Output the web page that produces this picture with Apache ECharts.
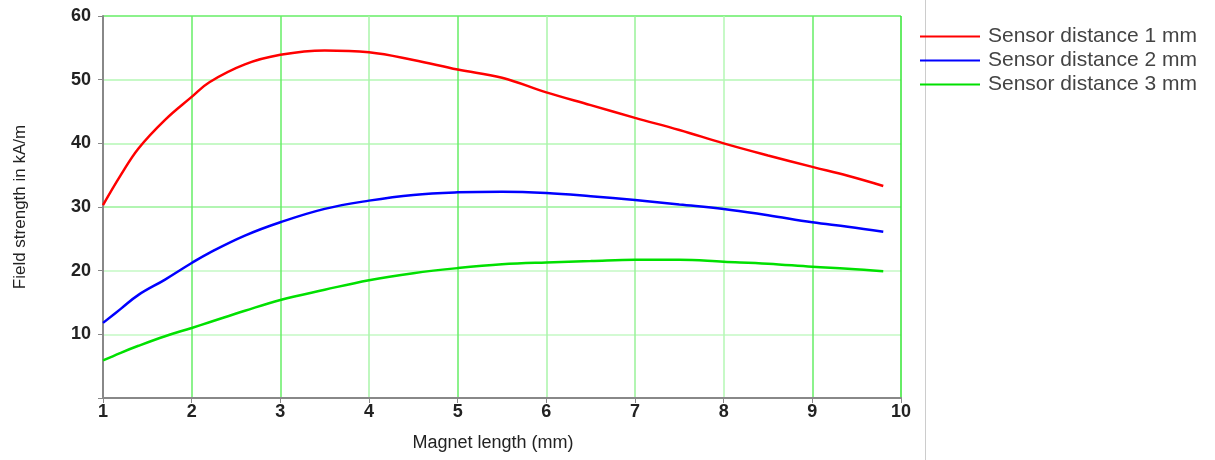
<!DOCTYPE html>
<html><head><meta charset="utf-8">
<script src="https://cdn.jsdelivr.net/npm/echarts@6/dist/echarts.min.js"></script>
<style>html,body{margin:0;padding:0;background:#fff}#c{width:1215px;height:460px}</style>
</head><body><div id="c"></div>
<script>
const magnetLength = [1,1.2,1.4,1.7,2,2.2,2.6,3,3.5,4,4.5,5,5.5,6,6.5,7,7.5,8,8.5,9,9.4,9.8];
const sensor1mm = [30.3,35,39.2,43.7,47.3,49.6,52.4,53.9,54.6,54.3,53.1,51.6,50.3,48.0,46.0,44.0,42.1,40.0,38.1,36.3,34.9,33.3];
const sensor2mm = [11.8,14,16.2,18.6,21.2,22.8,25.5,27.6,29.7,31.0,31.9,32.3,32.4,32.2,31.7,31.1,30.4,29.7,28.7,27.6,26.9,26.1];
const sensor3mm = [5.9,7.1,8.2,9.7,11.0,11.9,13.7,15.4,17.0,18.5,19.6,20.4,21.0,21.3,21.5,21.7,21.7,21.4,21.1,20.6,20.3,19.9];
const seriesNames = ['Sensor distance 1 mm','Sensor distance 2 mm','Sensor distance 3 mm'];
const seriesColors = ['#ff0000','#0000ff','#00e000'];
const xTitle = 'Magnet length (mm)';
const yTitle = 'Field strength in kA/m';

const chart = echarts.init(document.getElementById('c'));
const pair = arr => magnetLength.map((x,i)=>[x,arr[i]]);
const font = '"Liberation Sans", Arial, sans-serif';
chart.setOption({
  animation:false,
  grid:{left:103,right:314,top:16,bottom:62,containLabel:false},
  legend:{orient:'vertical',left:920,top:26,padding:0,itemWidth:60,itemHeight:2,itemGap:3,
    textStyle:{fontFamily:font,fontSize:21,color:'#444',padding:[0,0,0,3]},
    data:seriesNames.map(n=>({name:n,icon:'rect'}))},
  graphic:[{type:'line',shape:{x1:925.5,y1:0,x2:925.5,y2:460},style:{stroke:'#cccccc',lineWidth:1},z:-1}],
  xAxis:{type:'value',min:1,max:10,interval:1,
    name:xTitle,nameLocation:'middle',nameGap:36,
    nameTextStyle:{fontFamily:font,fontSize:18,color:'#222',padding:[0,18,0,0]},
    axisLine:{lineStyle:{color:'#888',width:2}},
    axisTick:{show:true,length:5,lineStyle:{color:'#888'}},
    axisLabel:{fontFamily:font,fontSize:18,fontWeight:'bold',color:'#222',margin:5},
    splitLine:{show:true,lineStyle:{color:['#ffffff','#66ee66','#66ee66','#aaf5aa','#66ee66','#aaf5aa','#99f299','#b5f7b5','#66ee66','#33e633'],width:1.5}}
  },
  yAxis:{type:'value',min:0,max:60,interval:10,
    name:yTitle,nameLocation:'middle',nameGap:74,
    nameTextStyle:{fontFamily:font,fontSize:17,color:'#222'},
    axisLine:{show:true,lineStyle:{color:'#888',width:2}},
    axisTick:{show:true,length:5,lineStyle:{color:'#888'}},
    axisLabel:{fontFamily:font,fontSize:18,fontWeight:'bold',color:'#222',margin:12,
      formatter:v=>v===0?'':String(v)},
    splitLine:{show:true,lineStyle:{color:['#ffffff','#c4f8c4','#c4f8c4','#99f299','#b5f7b5','#b5f7b5','#66ee66'],width:1.5}}
  },
  series:[sensor1mm,sensor2mm,sensor3mm].map((arr,i)=>({
    name:seriesNames[i],type:'line',data:pair(arr),smooth:0.4,showSymbol:false,symbol:'none',
    lineStyle:{color:seriesColors[i],width:2.5},itemStyle:{color:seriesColors[i]}
  }))
});
</script></body></html>
